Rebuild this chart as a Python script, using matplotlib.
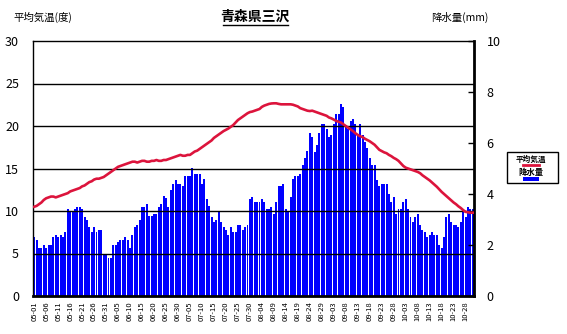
import numpy as np
import pandas as pd
import matplotlib
matplotlib.use('Agg')
import matplotlib.pyplot as plt
from matplotlib.lines import Line2D
from matplotlib.patches import Rectangle

plt.rcParams['font.family'] = ['Noto Sans CJK JP', 'DejaVu Sans']

# 5/1 - 10/31 の日別値
days = pd.date_range('2023-05-01', '2023-10-31')
day_labels = list(days.strftime('%m-%d'))

# 平均気温 (度)
temp = [
    10.5, 10.6, 10.8, 11.0, 11.3, 11.5,
    11.6, 11.7, 11.7, 11.6, 11.7,
    11.8, 11.9, 12.0, 12.1, 12.3,
    12.4, 12.5, 12.6, 12.7, 12.9,
    13.0, 13.2, 13.4, 13.5, 13.7,
    13.8, 13.8, 13.9, 14.0, 14.2,
    14.4, 14.6, 14.8, 15.0, 15.2,
    15.3, 15.4, 15.5, 15.6, 15.7,
    15.8, 15.8, 15.7, 15.8, 15.9,
    15.9, 15.8, 15.8, 15.9, 15.9,
    16.0, 15.9, 15.9, 16.0, 16.0,
    16.1, 16.2, 16.3, 16.4, 16.5,
    16.6, 16.5, 16.5, 16.6, 16.6,
    16.8, 17.0, 17.1, 17.3, 17.5,
    17.7, 17.9, 18.1, 18.3, 18.6,
    18.8, 19.0, 19.2, 19.4, 19.55,
    19.7, 19.9, 20.1, 20.4, 20.7,
    20.9, 21.1, 21.3, 21.5, 21.64,
    21.7, 21.8, 21.9, 22.0, 22.25,
    22.4, 22.5, 22.6, 22.65, 22.67,
    22.67, 22.6, 22.55, 22.55, 22.55,
    22.55, 22.55, 22.5, 22.4, 22.3,
    22.1, 22.0, 21.9, 21.8, 21.76,
    21.8, 21.7, 21.6, 21.5, 21.4,
    21.3, 21.2, 21.0, 20.9, 20.75,
    20.6, 20.5, 20.4, 20.2, 20.0,
    19.8, 19.6, 19.4, 19.15, 18.95,
    18.8, 18.7, 18.5, 18.35, 18.2,
    18.0, 17.8, 17.5, 17.2, 17.05,
    16.9, 16.8, 16.6, 16.45, 16.25,
    16.1, 15.9, 15.6, 15.3, 15.1,
    15.0, 14.9, 14.8, 14.7, 14.6,
    14.45, 14.2, 14.0, 13.8, 13.6,
    13.35, 13.1, 12.85, 12.55, 12.25,
    12.0, 11.75, 11.5, 11.25, 11.0,
    10.8, 10.55, 10.35, 10.1, 9.9,
    9.85, 9.8, 9.8,
]

# 降水量 (mm)
rain = [
    2.33, 2.20, 1.89, 1.89, 2.00, 1.89, 2.00, 2.00, 2.32, 2.41,
    2.32, 2.40, 2.32, 2.52, 3.42, 3.32, 3.32, 3.42, 3.50, 3.50,
    3.42, 3.10, 2.99, 2.71, 2.52, 2.71, 2.52, 2.60, 2.60, 1.61,
    1.61, 1.50, 1.50, 2.00, 2.00, 2.13, 2.20, 2.20, 2.32, 2.20,
    1.89, 2.40, 2.71, 2.79, 2.99, 3.50, 3.50, 3.62, 3.12, 3.12,
    3.22, 3.22, 3.50, 3.62, 3.93, 3.83, 3.50, 4.14, 4.40, 4.53,
    4.40, 4.40, 4.33, 4.72, 4.72, 4.72, 5.02, 4.80, 4.80, 4.80,
    4.40, 4.60, 3.82, 3.52, 3.11, 2.91, 2.99, 3.32, 2.91, 2.71,
    2.60, 2.40, 2.71, 2.52, 2.52, 2.79, 2.79, 2.60, 2.71, 2.79,
    3.82, 3.90, 3.70, 3.70, 3.70, 3.82, 3.70, 3.42, 3.42, 3.50,
    3.22, 3.70, 4.33, 4.33, 4.40, 3.42, 3.33, 3.90, 4.60, 4.72,
    4.72, 4.80, 5.12, 5.43, 5.70, 6.41, 6.22, 5.63, 5.93, 6.41,
    6.73, 6.73, 6.53, 6.22, 6.33, 6.73, 7.12, 7.12, 7.52, 7.43,
    6.65, 6.53, 6.85, 6.93, 6.73, 6.33, 6.73, 6.33, 6.02, 5.82,
    5.43, 5.12, 5.12, 4.53, 4.33, 4.40, 4.40, 4.40, 4.01, 3.70,
    3.90, 3.22, 3.42, 3.42, 3.70, 3.82, 3.42, 3.11, 2.91, 3.11,
    3.22, 2.79, 2.60, 2.52, 2.32, 2.40, 2.52, 2.40, 2.40, 2.00,
    1.89, 2.32, 3.11, 3.22, 2.91, 2.79, 2.79, 2.71, 2.91, 3.33,
    3.11, 3.50, 3.42, 3.42,
]

W, H = 567, 334
fig = plt.figure(figsize=(W / 100, H / 100), dpi=100)
fig.patch.set_facecolor('white')

def fx(px):
    return px / W

def fy(py):
    return 1 - py / H

ax = fig.add_axes([fx(33), fy(296), (474 - 33) / W, (296 - 41) / H])
ax2 = ax.twinx()
ax.set_zorder(2)
ax2.set_zorder(1)
ax.patch.set_visible(False)

x = np.arange(len(days))

# 降水量の棒 (右軸)
ax2.bar(x, rain, width=0.82, color='#0000ff', linewidth=0, antialiased=False)
ax2.set_ylim(0, 10)
ax2.set_yticks(range(0, 11, 2))
ax2.tick_params(axis='y', direction='in', length=4, width=1, pad=9, labelsize=9)

# 平均気温 (左軸)
for v in range(5, 30, 5):
    ax.axhline(v, color='black', lw=1, zorder=1)
ax.plot(x, temp, color='#dc143c', lw=1.9, zorder=3)
ax.set_ylim(0, 30)
ax.set_xlim(-0.5, len(days) - 0.5)
ax.set_yticks(range(0, 31, 5))
ax.tick_params(axis='y', length=0, pad=10, labelsize=9)

ax.set_xticks(x[::5])
ax.set_xticklabels(day_labels[::5], rotation=90, fontsize=5.5)
ax.tick_params(axis='x', length=0, pad=4)

for s in ax2.spines.values():
    s.set_visible(False)
ax.spines['left'].set_linewidth(1)
ax.spines['top'].set_linewidth(1)
ax.spines['bottom'].set_linewidth(2)
ax.spines['right'].set_linewidth(2)

# タイトルと軸名
fig.text(fx(255), fy(17), '青森県三沢', ha='center', va='center',
         fontsize=10, fontweight='bold')
fig.add_artist(Line2D([fx(223), fx(288)], [fy(25), fy(25)],
                      transform=fig.transFigure, color='black', lw=1))
fig.text(fx(13), fy(17), '平均気温(度)', ha='left', va='center', fontsize=7.5)
fig.text(fx(431), fy(17), '降水量(mm)', ha='left', va='center', fontsize=7.5)

# 凡例
fig.add_artist(Rectangle((fx(507), fy(183)), (558 - 507) / W, (183 - 152) / H,
                         transform=fig.transFigure, fill=False,
                         edgecolor='black', lw=1))
fig.text(fx(531), fy(159.5), '平均気温', ha='center', va='center',
         fontsize=5.5, fontweight='bold')
fig.add_artist(Line2D([fx(523), fx(539)], [fy(164.5), fy(164.5)],
                      transform=fig.transFigure, color='#dc143c', lw=2))
fig.text(fx(531), fy(172), '降水量', ha='center', va='center',
         fontsize=6, fontweight='bold')
fig.add_artist(Rectangle((fx(523), fy(181)), 16 / W, 4 / H,
                         transform=fig.transFigure, color='#0000ff', lw=0))

fig.savefig('out.png', dpi=100)
